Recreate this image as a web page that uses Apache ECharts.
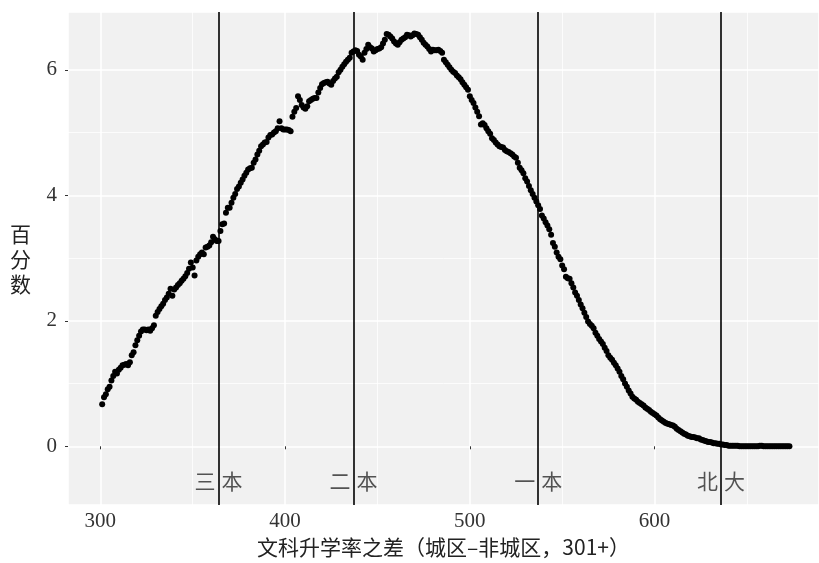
<!DOCTYPE html>
<html>
<head>
<meta charset="utf-8">
<script src="https://cdn.jsdelivr.net/npm/echarts@6/dist/echarts.min.js"></script>
<style>html,body{margin:0;padding:0;background:#fff;}#chart{width:819px;height:563px;}</style>
</head>
<body>
<div id="chart"></div>
<script>
// x: 文科分数 301..673
var scores = [
301,302,303,304,305,306,307,308,309,310,
311,312,313,314,315,316,317,318,319,320,
321,322,323,324,325,326,327,328,329,330,
331,332,333,334,335,336,337,338,339,340,
341,342,343,344,345,346,347,348,349,350,
351,352,353,354,355,356,357,358,359,360,
361,362,363,364,365,366,367,368,369,370,
371,372,373,374,375,376,377,378,379,380,
381,382,383,384,385,386,387,388,389,390,
391,392,393,394,395,396,397,398,399,400,
401,402,403,404,405,406,407,408,409,410,
411,412,413,414,415,416,417,418,419,420,
421,422,423,424,425,426,427,428,429,430,
431,432,433,434,435,436,437,438,439,440,
441,442,443,444,445,446,447,448,449,450,
451,452,453,454,455,456,457,458,459,460,
461,462,463,464,465,466,467,468,469,470,
471,472,473,474,475,476,477,478,479,480,
481,482,483,484,485,486,487,488,489,490,
491,492,493,494,495,496,497,498,499,500,
501,502,503,504,505,506,507,508,509,510,
511,512,513,514,515,516,517,518,519,520,
521,522,523,524,525,526,527,528,529,530,
531,532,533,534,535,536,537,538,539,540,
541,542,543,544,545,546,547,548,549,550,
551,552,553,554,555,556,557,558,559,560,
561,562,563,564,565,566,567,568,569,570,
571,572,573,574,575,576,577,578,579,580,
581,582,583,584,585,586,587,588,589,590,
591,592,593,594,595,596,597,598,599,600,
601,602,603,604,605,606,607,608,609,610,
611,612,613,614,615,616,617,618,619,620,
621,622,623,624,625,626,627,628,629,630,
631,632,633,634,635,636,637,638,639,640,
641,642,643,644,645,646,647,648,649,650,
651,652,653,654,655,656,657,658,659,660,
661,662,663,664,665,666,667,668,669,670,
671,672,673
];
// y: 百分数
var percents = [
0.67,0.78,0.83,0.91,0.95,1.05,1.12,1.19,1.16,1.22,
1.25,1.29,1.30,1.31,1.29,1.34,1.45,1.50,1.61,1.69,
1.76,1.83,1.86,1.86,1.85,1.86,1.84,1.88,1.93,2.08,
2.14,2.19,2.23,2.27,2.33,2.37,2.43,2.51,2.40,2.50,
2.53,2.57,2.60,2.64,2.67,2.71,2.76,2.83,2.93,2.85,
2.72,2.96,3.02,3.06,3.09,3.06,3.17,3.18,3.20,3.25,
3.34,3.30,3.27,3.27,3.43,3.54,3.55,3.72,3.80,3.80,
3.88,3.96,4.02,4.10,4.14,4.20,4.25,4.31,4.36,4.41,
4.43,4.44,4.52,4.57,4.65,4.71,4.78,4.81,4.84,4.85,
4.92,4.96,4.97,5.00,5.02,5.07,5.18,5.07,5.05,5.05,
5.05,5.04,5.02,5.25,5.33,5.39,5.58,5.52,5.44,5.40,
5.38,5.42,5.50,5.52,5.54,5.55,5.55,5.64,5.71,5.77,
5.79,5.80,5.81,5.78,5.76,5.82,5.86,5.89,5.96,6.00,
6.05,6.09,6.13,6.16,6.19,6.27,6.29,6.31,6.30,6.24,
6.21,6.16,6.27,6.33,6.40,6.36,6.34,6.29,6.31,6.33,
6.34,6.36,6.42,6.48,6.57,6.56,6.53,6.50,6.45,6.42,
6.40,6.44,6.48,6.50,6.52,6.56,6.55,6.53,6.55,6.58,
6.57,6.56,6.52,6.48,6.43,6.40,6.37,6.33,6.29,6.32,
6.31,6.31,6.32,6.30,6.27,6.16,6.12,6.08,6.04,6.00,
5.97,5.95,5.91,5.88,5.85,5.80,5.76,5.72,5.68,5.58,
5.52,5.47,5.40,5.33,5.26,5.13,5.15,5.12,5.07,5.02,
4.98,4.91,4.88,4.84,4.81,4.78,4.77,4.76,4.72,4.70,
4.69,4.67,4.65,4.62,4.60,4.52,4.44,4.40,4.35,4.27,
4.22,4.15,4.08,4.02,3.96,3.90,3.84,3.78,3.68,3.63,
3.57,3.52,3.46,3.37,3.24,3.18,3.09,3.02,2.98,2.88,
2.82,2.70,2.68,2.67,2.60,2.53,2.45,2.40,2.33,2.26,
2.20,2.13,2.06,1.99,1.95,1.92,1.88,1.81,1.76,1.71,
1.67,1.63,1.57,1.52,1.45,1.41,1.38,1.33,1.29,1.24,
1.19,1.12,1.07,1.00,0.95,0.89,0.84,0.79,0.76,0.74,
0.71,0.69,0.67,0.65,0.62,0.60,0.58,0.55,0.53,0.51,
0.49,0.46,0.43,0.41,0.39,0.37,0.36,0.35,0.34,0.33,
0.31,0.28,0.26,0.24,0.22,0.20,0.19,0.17,0.16,0.15,
0.15,0.14,0.13,0.13,0.11,0.10,0.09,0.08,0.07,0.07,
0.06,0.05,0.05,0.04,0.04,0.03,0.03,0.02,0.02,0.01,
0.01,0.01,0.01,0.01,0.01,0.00,0.00,0.00,0.00,0.00,
0.00,0.00,0.00,0.00,0.00,0.00,0.01,0.01,0.00,0.00,
0.00,0.00,0.00,0.00,0.00,0.00,0.00,0.00,0.00,0.00,
0.00,0.00,0.00
];
// 分数线
var cutoffScores = [364, 437, 537, 636];
var cutoffNames = ['三本', '二本', '一本', '北大'];
var cutoffLabelY = -0.55;

var xMin = 282.5, xMax = 689;
var yMin = -0.937, yMax = 6.921;

var serif = '"Liberation Serif", "DejaVu Serif", serif';
var cjk = '"Noto Sans CJK SC", sans-serif';

var points = scores.map(function (s, i) { return [s, percents[i]]; });
var labelPts = cutoffScores.map(function (s, i) { return { value: [s, cutoffLabelY], name: cutoffNames[i] }; });

var chart = echarts.init(document.getElementById('chart'), null, { renderer: 'canvas' });
chart.setOption({
  animation: false,
  backgroundColor: '#ffffff',
  grid: { left: 68, right: 0, top: 12, bottom: 56, show: true, backgroundColor: '#F1F1F1', borderWidth: 0 },
  xAxis: {
    type: 'value', min: xMin, max: xMax, splitNumber: 5,
    name: '文科升学率之差（城区–非城区，301+）',
    nameLocation: 'middle', nameGap: 31,
    nameTextStyle: { fontFamily: cjk, fontSize: 21, color: '#222' },
    axisLine: { show: false },
    axisTick: { show: true, length: 3, lineStyle: { color: '#333', width: 1 } },
    axisLabel: { showMinLabel: false, showMaxLabel: false, margin: 6, fontFamily: serif, fontSize: 21, color: '#333' },
    splitLine: { show: true, lineStyle: { color: '#ffffff', width: 1.6 } },
    minorTick: { show: false, splitNumber: 2 },
    minorSplitLine: { show: true, lineStyle: { color: '#ffffff', width: 0.8 } }
  },
  yAxis: {
    type: 'value', min: yMin, max: yMax, splitNumber: 5,
    name: '百\n分\n数',
    nameLocation: 'middle', nameGap: 37, nameRotate: 0,
    nameTextStyle: { fontFamily: cjk, fontSize: 21, lineHeight: 25, color: '#222' },
    axisLine: { show: false },
    axisTick: { show: true, length: 3, lineStyle: { color: '#333', width: 1 } },
    axisLabel: { showMinLabel: false, showMaxLabel: false, margin: 11, fontFamily: serif, fontSize: 21, color: '#333' },
    splitLine: { show: true, lineStyle: { color: '#ffffff', width: 1.6 } },
    minorTick: { show: false, splitNumber: 2 },
    minorSplitLine: { show: true, lineStyle: { color: '#ffffff', width: 0.8 } }
  },
  series: [
    {
      name: '百分数', type: 'scatter', data: points,
      symbol: 'circle', symbolSize: 6,
      itemStyle: { color: '#000000', opacity: 1 },
      markLine: {
        silent: true, symbol: ['none', 'none'],
        label: { show: false },
        lineStyle: { color: '#000000', width: 1.6, type: 'solid', opacity: 1 },
        data: cutoffScores.map(function (s) { return { xAxis: s }; })
      },
      z: 3
    },
    {
      name: '分数线', type: 'scatter', data: labelPts,
      symbolSize: 0, silent: true,
      label: {
        show: true, position: 'inside',
        formatter: function (p) { return '{a|' + p.name.charAt(0) + '}{b|' + p.name.charAt(1) + '}'; },
        fontFamily: cjk, fontSize: 21, color: '#2a2a2a',
        rich: {
          a: { fontFamily: cjk, fontSize: 21, color: '#2a2a2a', padding: [0, 3, 0, 0] },
          b: { fontFamily: cjk, fontSize: 21, color: '#2a2a2a', padding: [0, 0, 0, 3] }
        }
      },
      z: 2
    }
  ]
});
</script>
</body>
</html>
